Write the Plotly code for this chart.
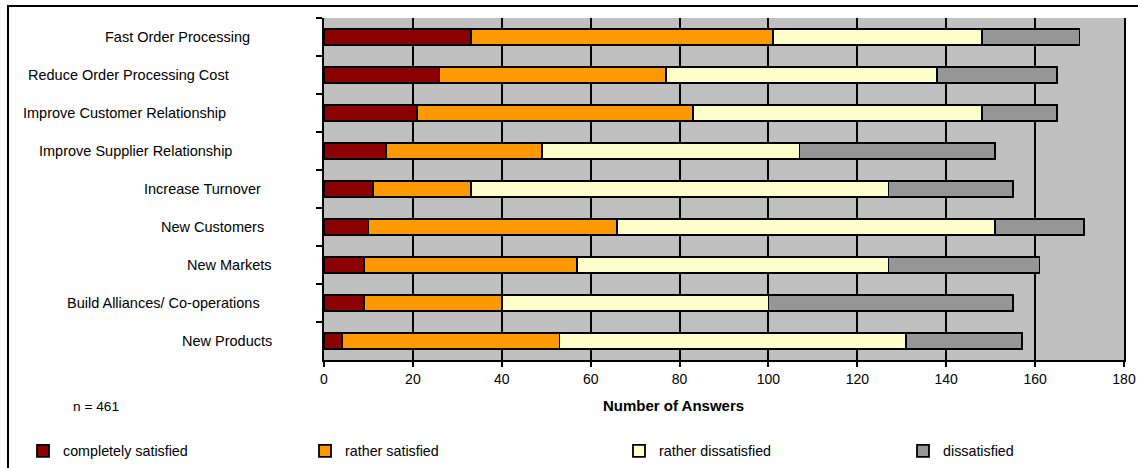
import plotly.graph_objects as go

# ---- data (top to bottom as shown) ----
categories = [
    "Fast Order Processing",
    "Reduce Order Processing Cost",
    "Improve Customer Relationship",
    "Improve Supplier Relationship",
    "Increase Turnover",
    "New Customers",
    "New Markets",
    "Build Alliances/ Co-operations",
    "New Products",
]
completely_satisfied = [33, 26, 21, 14, 11, 10, 9, 9, 4]
rather_satisfied = [68, 51, 62, 35, 22, 56, 48, 31, 49]
rather_dissatisfied = [47, 61, 65, 58, 94, 85, 70, 60, 78]
dissatisfied = [22, 27, 17, 44, 28, 20, 34, 55, 26]
series_names = ["completely satisfied", "rather satisfied", "rather dissatisfied", "dissatisfied"]
x_ticks = [0, 20, 40, 60, 80, 100, 120, 140, 160, 180]
x_title = "Number of Answers"
note = "n = 461"

# ---- style ----
colors = ["#8B0000", "#FF9900", "#FFFFCC", "#969696"]
label_right_px = [252, 231, 228, 234, 263, 266, 274, 262, 274]  # right edge of each category label
legend_text_px = [63, 345, 659, 943]
FONT = "Arial, Liberation Sans, sans-serif"
W, H = 1138, 468
ML, MR, MT, MB = 324, 14, 18, 108
PW, PH = W - ML - MR, H - MT - MB

def px_to_paper_x(px):
    return (px - ML) / PW

def py_to_paper_y(py):
    return (H - MB - py) / PH

fig = go.Figure()
all_series = [completely_satisfied, rather_satisfied, rather_dissatisfied, dissatisfied]
legend_ids = ["legend", "legend2", "legend3", "legend4"]
for name, vals, col, lg in zip(series_names, all_series, colors, legend_ids):
    fig.add_trace(go.Bar(
        y=categories, x=vals, name=name, orientation="h",
        marker=dict(color=col, line=dict(color="black", width=1.8)),
        width=0.42, legend=lg,
    ))

layout_legends = {}
for i, lg in enumerate(legend_ids):
    layout_legends[lg] = dict(
        x=px_to_paper_x(legend_text_px[i] - 40), xanchor="left",
        y=py_to_paper_y(451), yanchor="middle",
        font=dict(family=FONT, size=14.3, color="black"),
        bgcolor="rgba(0,0,0,0)", borderwidth=0,
        itemclick=False, itemdoubleclick=False,
    )

fig.update_layout(
    width=W, height=H,
    margin=dict(l=ML, r=MR, t=MT, b=MB, autoexpand=False),
    barmode="stack",
    paper_bgcolor="white",
    plot_bgcolor="#C0C0C0",
    font=dict(family=FONT, size=14, color="black"),
    showlegend=True,
    **layout_legends,
    xaxis=dict(
        range=[0, 180], tickvals=x_ticks, ticks="outside", ticklen=5, tickwidth=2,
        tickcolor="black", showline=True, linecolor="black", linewidth=2,
        showgrid=True, gridcolor="black", gridwidth=2, zeroline=False, automargin=False,
        ticklabeloverflow="allow",
        tickfont=dict(family=FONT, size=14, color="black"),
    ),
    yaxis=dict(
        autorange="reversed", type="category", categoryorder="array", categoryarray=categories,
        ticks="outside", tickson="boundaries", ticklen=6, tickwidth=2, tickcolor="black",
        showline=True, linecolor="black", linewidth=2, mirror=True, automargin=False,
        showgrid=False, showticklabels=False,
    ),
)

for cat, rpx in zip(categories, label_right_px):
    fig.add_annotation(
        x=0, xref="paper", y=cat, yref="y", xanchor="right", yanchor="middle",
        xshift=rpx - ML, text=cat, showarrow=False,
        font=dict(family=FONT, size=14.5, color="black"),
    )

fig.add_annotation(
    x=px_to_paper_x(673), xref="paper", y=py_to_paper_y(405), yref="paper",
    text="<b>" + x_title + "</b>", showarrow=False, xanchor="center", yanchor="middle",
    font=dict(family=FONT, size=15, color="black"),
)
fig.add_annotation(
    x=px_to_paper_x(96), xref="paper", y=py_to_paper_y(406), yref="paper",
    text=note, showarrow=False, xanchor="center", yanchor="middle",
    font=dict(family=FONT, size=13.7, color="black"),
)

fig.add_shape(
    type="rect", xref="paper", yref="paper",
    x0=px_to_paper_x(8), x1=px_to_paper_x(1160),
    y0=py_to_paper_y(490), y1=py_to_paper_y(6),
    line=dict(color="black", width=2), fillcolor="rgba(0,0,0,0)", layer="below",
)

fig.write_html(
    "out.html",
    config={"displayModeBar": False},
    post_script="document.body.style.margin='0';document.body.style.padding='0';document.body.style.overflow='hidden';",
)
